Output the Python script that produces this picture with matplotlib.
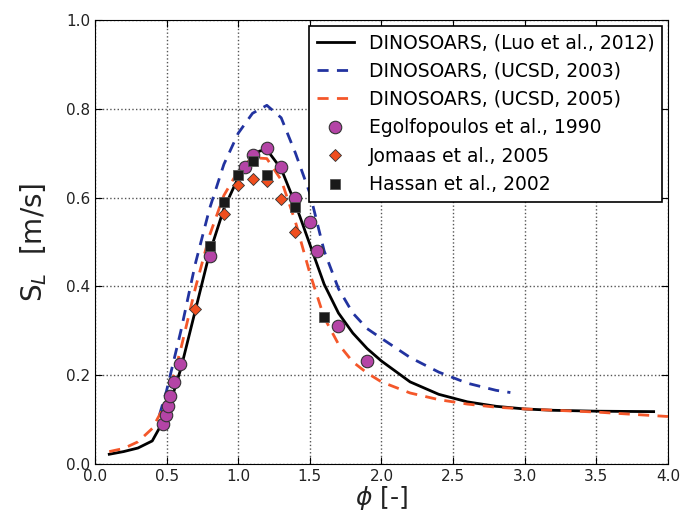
import matplotlib
matplotlib.use("Agg")
import matplotlib.pyplot as plt

# DINOSOARS (Luo et al., 2012)
phi_luo = [0.1, 0.2, 0.3, 0.4, 0.5, 0.6, 0.7, 0.8, 0.9, 1.0, 1.1, 1.15, 1.2, 1.3, 1.4,
           1.5, 1.6, 1.7, 1.8, 1.9, 2.0, 2.2, 2.4, 2.6, 2.8, 3.0, 3.2, 3.5, 3.9]
sl_luo = [0.022, 0.028, 0.036, 0.052, 0.11, 0.215, 0.345, 0.475, 0.575, 0.645, 0.695, 0.705,
          0.708, 0.665, 0.585, 0.495, 0.405, 0.34, 0.295, 0.26, 0.232, 0.185, 0.157, 0.14,
          0.13, 0.124, 0.121, 0.119, 0.118]

# DINOSOARS (UCSD, 2003)
phi_2003 = [0.45, 0.5, 0.6, 0.7, 0.8, 0.9, 1.0, 1.1, 1.2, 1.3, 1.4, 1.5, 1.6, 1.7, 1.8,
            1.9, 2.0, 2.2, 2.4, 2.6, 2.8, 2.9]
sl_2003 = [0.11, 0.165, 0.30, 0.45, 0.575, 0.675, 0.745, 0.79, 0.808, 0.78, 0.70, 0.61,
           0.48, 0.395, 0.34, 0.305, 0.283, 0.24, 0.207, 0.182, 0.166, 0.161]

# DINOSOARS (UCSD, 2005)
phi_2005 = [0.1, 0.2, 0.3, 0.4, 0.5, 0.6, 0.7, 0.8, 0.9, 1.0, 1.1, 1.2, 1.3, 1.4, 1.5,
            1.6, 1.7, 1.8, 1.9, 2.0, 2.2, 2.4, 2.6, 2.8, 3.0, 3.5, 4.0]
sl_2005 = [0.028, 0.035, 0.05, 0.08, 0.14, 0.26, 0.395, 0.515, 0.605, 0.66, 0.69, 0.688,
           0.64, 0.545, 0.43, 0.33, 0.27, 0.23, 0.205, 0.185, 0.16, 0.145, 0.135, 0.128,
           0.124, 0.117, 0.107]

# Egolfopoulos et al., 1990
phi_ego = [0.475, 0.495, 0.51, 0.525, 0.553, 0.593, 0.8, 1.05, 1.1, 1.2, 1.3, 1.4, 1.5,
           1.55, 1.7, 1.9]
sl_ego = [0.09, 0.11, 0.131, 0.153, 0.185, 0.225, 0.468, 0.668, 0.695, 0.711, 0.668, 0.60,
          0.545, 0.48, 0.31, 0.233]

# Jomaas et al., 2005
phi_jom = [0.7, 0.9, 1.0, 1.1, 1.2, 1.3, 1.4]
sl_jom = [0.35, 0.563, 0.628, 0.643, 0.637, 0.598, 0.522]

# Hassan et al., 2002
phi_has = [0.8, 0.9, 1.0, 1.1, 1.2, 1.4, 1.6]
sl_has = [0.49, 0.59, 0.65, 0.683, 0.652, 0.58, 0.332]

fig = plt.figure(figsize=(6.83, 5.15), dpi=100)
ax = fig.add_axes([0.139, 0.099, 0.839, 0.862])

ax.plot(phi_luo, sl_luo, color='black', lw=2, label='DINOSOARS, (Luo et al., 2012)')
ax.plot(phi_2003, sl_2003, color='#2233a0', lw=2, ls='--', dashes=(4, 3),
        label='DINOSOARS, (UCSD, 2003)')
ax.plot(phi_2005, sl_2005, color='#f4572a', lw=2, ls='--', dashes=(4, 3),
        label='DINOSOARS, (UCSD, 2005)')
ax.plot(phi_ego, sl_ego, 'o', color='#b444a6', mec='#333333', mew=0.8, ms=9,
        label='Egolfopoulos et al., 1990')
ax.plot(phi_jom, sl_jom, 'D', color='#f04e1e', mec='#333333', mew=0.6, ms=6,
        label='Jomaas et al., 2005')
ax.plot(phi_has, sl_has, 's', color='#1a1a1a', mec='#555555', mew=0.6, ms=7,
        label='Hassan et al., 2002')

ax.set_xlim(0, 4.0)
ax.set_ylim(0, 1.0)
ax.set_xticks([0.0, 0.5, 1.0, 1.5, 2.0, 2.5, 3.0, 3.5, 4.0])
ax.set_yticks([0.0, 0.2, 0.4, 0.6, 0.8, 1.0])
ax.tick_params(direction='in', top=True, right=True, length=5, labelsize=11,
               labelcolor='#222222')
ax.grid(True, ls=':', color='#555555', lw=1)
ax.set_axisbelow(True)

ax.set_xlabel(r'$\phi$ [-]', fontsize=18, color='#222222', labelpad=0)
ax.set_ylabel(r'S$_L$  [m/s]', fontsize=20, color='#222222', labelpad=12)

leg = ax.legend(loc='upper right', fontsize=13.5, fancybox=False, framealpha=1,
                edgecolor='black', numpoints=1, handlelength=2.0, handletextpad=0.8,
                borderaxespad=0.3, labelspacing=0.5, borderpad=0.4)
leg.get_frame().set_linewidth(1.2)

fig.savefig('out.png', dpi=100)
